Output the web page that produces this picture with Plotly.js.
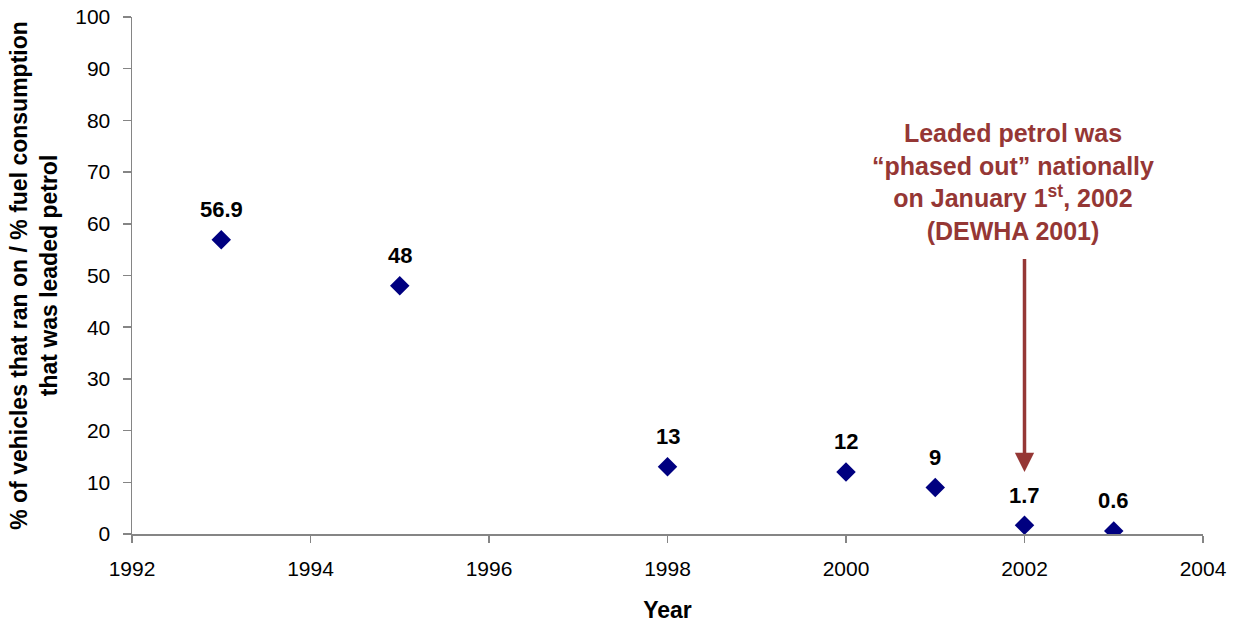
<!DOCTYPE html>
<html>
<head>
<meta charset="utf-8">
<script src="https://cdn.plot.ly/plotly-3.0.1.min.js"></script>
<style>html,body{margin:0;padding:0;background:#fff;}#chart{width:1236px;height:623px;}</style>
</head>
<body>
<div id="chart"></div>
<script>
const years = [1993, 1995, 1998, 2000, 2001, 2002, 2003];
const values = [56.9, 48, 13, 12, 9, 1.7, 0.6];
const valueLabels = ['56.9', '48', '13', '12', '9', '1.7', '0.6'];
const xTicks = [1992, 1994, 1996, 1998, 2000, 2002, 2004];
const yTicks = [0, 10, 20, 30, 40, 50, 60, 70, 80, 90, 100];
const noteText = 'Leaded petrol was<br>“phased out” nationally<br>on January 1<sup>st</sup>, 2002<br>(DEWHA 2001)';
const noteYear = 2002;
const arrowTip = 12;
const arrowTail = 53.6;
const noteBottom = 55.6;

const FONT = 'Liberation Sans, Arial, sans-serif';
const RED = '#953735';

const annotations = years.map((yr, i) => ({
  x: yr, y: values[i], xref: 'x', yref: 'y',
  text: '<b>' + valueLabels[i] + '</b>', showarrow: false,
  yshift: 30, font: {family: FONT, size: 22, color: '#000'}
}));
annotations.push({
  x: noteYear, y: arrowTip, xref: 'x', yref: 'y',
  ax: noteYear, ay: arrowTail, axref: 'x', ayref: 'y',
  text: ' ', font: {size: 1}, showarrow: true, arrowhead: 2, arrowsize: 1.1, arrowwidth: 3.5,
  arrowcolor: RED, standoff: 0, startstandoff: 0
});
annotations.push({
  x: noteYear, y: noteBottom, xref: 'x', yref: 'y', yanchor: 'bottom',
  xshift: -12,
  text: '<b>' + noteText + '</b>', showarrow: false,
  font: {family: FONT, size: 25, color: RED}
});

const trace = {
  x: years, y: values, type: 'scatter', mode: 'markers',
  marker: {symbol: 'diamond', size: 15, color: '#000080'},
  hoverinfo: 'skip'
};

const axisCommon = {
  showline: true, linecolor: '#858585', linewidth: 1.5,
  ticks: 'outside', tickcolor: '#858585', tickwidth: 1.5,
  showgrid: false, zeroline: false,
  tickfont: {family: FONT, size: 21, color: '#000'}
};

const layout = {
  width: 1236, height: 623,
  margin: {l: 132, r: 33, t: 17, b: 89},
  paper_bgcolor: '#fff', plot_bgcolor: '#fff',
  showlegend: false,
  font: {family: FONT},
  xaxis: Object.assign({}, axisCommon, {
    range: [1992, 2004], tickvals: xTicks, ticktext: xTicks.map(String),
    ticklen: 7, ticklabelstandoff: 8,
    title: {text: '<b>Year</b>', font: {family: FONT, size: 23, color: '#000'}, standoff: 23}
  }),
  yaxis: Object.assign({}, axisCommon, {
    range: [0, 100], tickvals: yTicks, ticktext: yTicks.map(String),
    ticklen: 8, ticklabelstandoff: 8,
    title: {text: '<b>% of vehicles that ran on / % fuel consumption<br>that was leaded petrol</b>', font: {family: FONT, size: 23, color: '#000'}, standoff: 11}
  }),
  annotations: annotations
};

Plotly.newPlot('chart', [trace], layout, {displayModeBar: false, staticPlot: true});
</script>
</body>
</html>
